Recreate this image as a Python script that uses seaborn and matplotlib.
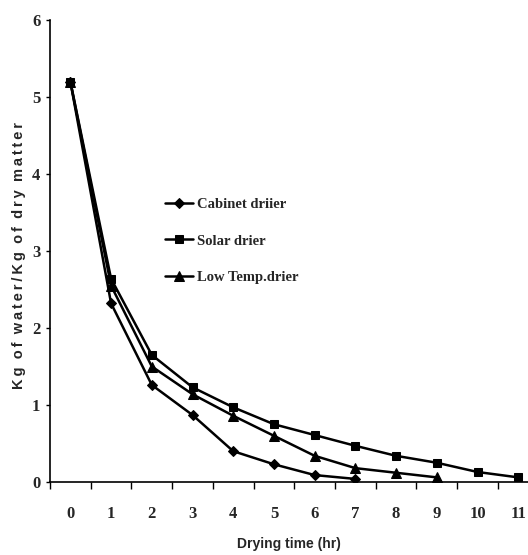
import seaborn as sns
import matplotlib.pyplot as plt
import pandas as pd

# drying curves
hours = list(range(12))
cabinet = [5.2, 2.32, 1.26, 0.87, 0.40, 0.23, 0.09, 0.04]
solar = [5.2, 2.64, 1.65, 1.23, 0.97, 0.75, 0.61, 0.47, 0.34, 0.25, 0.13, 0.06]
low_temp = [5.2, 2.55, 1.50, 1.14, 0.86, 0.60, 0.34, 0.18, 0.12, 0.06]

names = ["Cabinet driier", "Solar drier", "Low Temp.drier"]
markers = ["D", "s", "^"]
sizes = [5, 6, 7]

frames = []
for name, vals in zip(names, [cabinet, solar, low_temp]):
    frames.append(pd.DataFrame({"hr": hours[:len(vals)], "mc": vals, "drier": name}))
df = pd.concat(frames)

sns.set_theme(style="white")
plt.rcParams["font.family"] = ["Liberation Serif", "DejaVu Sans"]

fig = plt.figure(figsize=(5.28, 5.55), dpi=100)
ax = fig.add_axes([50 / 528, 73 / 555, 488.6 / 528, 462 / 555])

for name, m, s in zip(names, markers, sizes):
    sub = df[df["drier"] == name]
    sns.lineplot(data=sub, x="hr", y="mc", ax=ax, color="black", linewidth=1.8,
                 marker=m, markersize=s, markeredgecolor="black", label=name)

ax.set_xlim(-0.5, 11.5)
ax.set_ylim(0, 6)
ax.set_xticks(hours)
ax.set_xticklabels([str(h) for h in hours], fontweight="bold", fontsize=12)
ax.set_xticks([h - 0.5 for h in hours], minor=True)
ax.tick_params(axis="x", which="major", length=0, pad=17)
ax.tick_params(axis="x", which="minor", length=5, width=1, color="black", direction="out", bottom=True)
ax.set_yticks(range(7))
ax.set_yticklabels([str(v) for v in range(7)], fontweight="bold", fontsize=12)
ax.tick_params(axis="y", length=3, width=1, color="black", direction="out", left=True, pad=4)

for side in ["top", "right"]:
    ax.spines[side].set_visible(False)
for side in ["left", "bottom"]:
    ax.spines[side].set_color("black")
    ax.spines[side].set_linewidth(1.2)

ax.set_xlabel("Drying time (hr)", family="Liberation Sans", fontweight="bold", fontsize=10)
ax.xaxis.set_label_coords(0.5 - 0.5 * 10.6 / 488.6, -0.118)
ylab = "\u2009".join("Kg of water/Kg of dry matter").replace("\u2009 \u2009", "  ")
ax.set_ylabel(ylab, family=["Liberation Sans", "DejaVu Sans"], fontweight="bold", fontsize=10.5)
ax.yaxis.set_label_coords(-0.05, 0.49)

leg = ax.legend(loc="upper left", bbox_to_anchor=(0.209, 0.643), frameon=False,
                prop={"family": "Liberation Serif", "weight": "bold", "size": 10.5},
                handlelength=1.9, handletextpad=0.3, labelspacing=1.58)

fig.savefig("out.png", dpi=100)
